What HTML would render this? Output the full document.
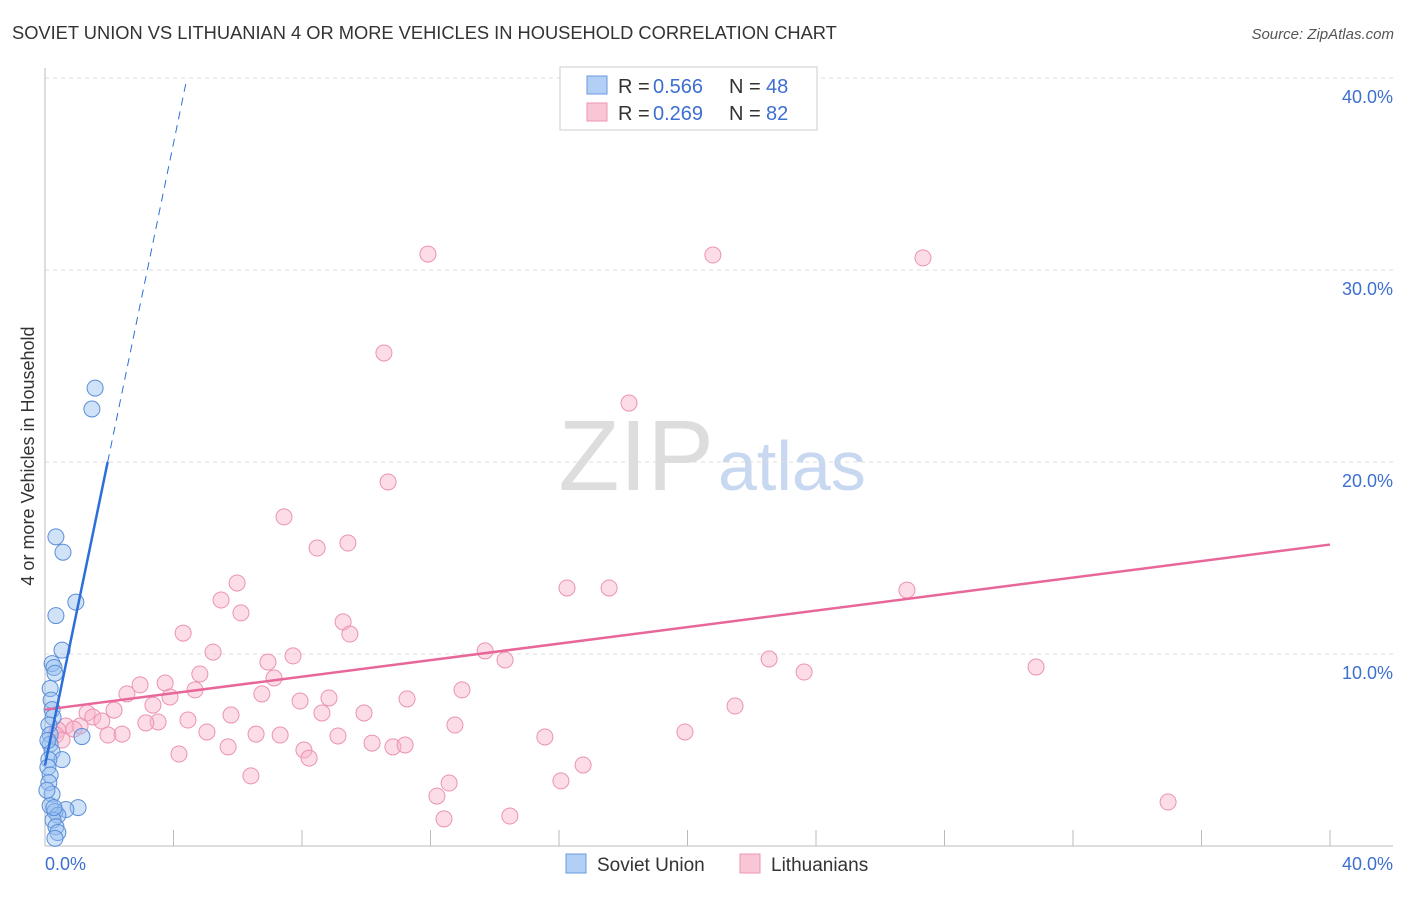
<!DOCTYPE html>
<html><head><meta charset="utf-8"><style>
body{margin:0;background:#fff;font-family:"Liberation Sans",sans-serif}
svg text{font-family:"Liberation Sans",sans-serif}
</style></head><body>
<svg id="c" width="1406" height="892">
<text x="12" y="39" font-size="18.3" fill="#333">SOVIET UNION VS LITHUANIAN 4 OR MORE VEHICLES IN HOUSEHOLD CORRELATION CHART</text>
<text x="1394" y="39" font-size="15" fill="#555" font-style="italic" text-anchor="end">Source: ZipAtlas.com</text>
<text x="714" y="490" font-size="100" fill="#ddd" text-anchor="end" font-family="Liberation Serif">ZIP</text>
<text x="718" y="490" font-size="70" fill="#c8d8f0">atlas</text>
<text transform="translate(34,456) rotate(-90)" font-size="18" fill="#333" text-anchor="middle">4 or more Vehicles in Household</text>
<g id="grid"></g><g id="marks"></g>
<g>
<rect x="560" y="67" width="257" height="63" fill="#fff" stroke="#ccc"/>
<rect x="587" y="76" width="20" height="18" fill="#b3cff5" stroke="#6a9ae0"/>
<rect x="587" y="103" width="20" height="18" fill="#f9c6d6" stroke="#ec95b2"/>
<text x="618" y="93" font-size="20" fill="#333">R =</text><text x="653" y="93" font-size="20" fill="#3d6fd0">0.566</text>
<text x="729" y="93" font-size="20" fill="#333">N =</text><text x="766" y="93" font-size="20" fill="#3d6fd0">48</text>
<text x="618" y="120" font-size="20" fill="#333">R =</text><text x="653" y="120" font-size="20" fill="#3d6fd0">0.269</text>
<text x="729" y="120" font-size="20" fill="#333">N =</text><text x="766" y="120" font-size="20" fill="#3d6fd0">82</text>
</g>
<g>
<rect x="566" y="854" width="20" height="19" fill="#b3cff5" stroke="#6a9ae0"/>
<text x="597" y="871" font-size="19" fill="#333">Soviet Union</text>
<rect x="740" y="854" width="20" height="19" fill="#f9c6d6" stroke="#ec95b2"/>
<text x="771" y="871" font-size="19" fill="#333">Lithuanians</text>
</g>
</svg>
<script>
const yTicks=[10,20,30,40];
const yTickLabels=["10.0%","20.0%","30.0%","40.0%"];
const xTickLabels=["0.0%","40.0%"];
const blueX=[1.56,1.46,0.34,0.56,0.96,0.34,0.53,0.22,0.28,0.31,0.16,0.19,0.22,0.25,0.12,0.16,1.15,0.16,0.22,0.53,0.12,0.09,0.16,0.12,0.22,0.16,1.03,0.65,0.31,0.40,0.25,0.34,0.40,0.31,0.09,0.06,0.28];
const blueY=[23.85,22.76,16.1,15.3,12.7,12.0,10.2,9.5,9.3,9.0,8.2,7.6,7.1,6.7,6.3,5.8,5.7,5.3,4.9,4.5,4.5,4.1,3.7,3.3,2.7,2.1,2.0,1.9,1.8,1.6,1.35,1.0,0.7,0.4,5.5,2.9,2.0];
const pinkX=[11.92,20.79,27.33,10.55,18.18,10.68,7.44,8.47,9.43,5.98,16.25,17.56,26.83,5.48,6.10,9.28,9.49,4.30,13.70,14.32,5.23,6.94,7.72,22.54,23.63,30.85,4.82,7.13,3.74,2.96,12.98,4.67,2.55,3.89,6.75,8.84,11.27,7.94,3.36,21.48,2.15,1.31,9.93,5.79,8.62,1.49,1.77,4.45,3.52,3.14,12.76,0.65,1.09,0.90,0.40,5.04,19.92,1.96,2.40,6.57,7.32,9.12,15.56,10.18,5.70,10.83,11.21,8.06,4.17,8.22,16.75,6.41,12.58,16.06,12.20,34.96,14.47,12.42,0.34,0.53];
const pinkY=[30.83,30.78,30.63,25.68,23.07,18.96,17.14,15.52,15.78,13.70,13.44,13.44,13.33,12.81,12.14,11.67,11.04,11.09,10.16,9.69,10.10,9.58,9.90,9.74,9.06,9.32,8.96,8.75,8.49,8.39,8.13,8.13,7.92,7.76,7.92,7.71,7.66,7.55,7.34,7.29,7.08,6.93,6.93,6.82,6.93,6.72,6.51,6.56,6.46,6.41,6.30,6.25,6.25,6.09,6.04,5.94,5.94,5.78,5.83,5.83,5.78,5.73,5.68,5.36,5.16,5.16,5.26,5.00,4.79,4.58,4.22,3.65,3.28,3.39,2.60,2.29,1.56,1.41,5.78,5.52];
const blueTrend=[4.2,8.1]; // intercept, slope
const pinkTrend=[7.1,0.215];
const NS="http://www.w3.org/2000/svg";
const sx=v=>45+v*32.125, sy=v=>846-v*19.2;
function mk(t,a,p){const e=document.createElementNS(NS,t);for(const k in a)e.setAttribute(k,a[k]);p.appendChild(e);return e;}
const g=document.getElementById('grid'),m=document.getElementById('marks');
yTicks.forEach((t,i)=>{
 const l=mk('line',{x1:45,x2:1393,y1:sy(t),y2:sy(t),stroke:'#ddd','stroke-dasharray':'4,4'},g);
 
 
 const tx=mk('text',{x:1393,y:sy(t)+25,'font-size':18,fill:'#3d6fd0','text-anchor':'end'},g);tx.textContent=yTickLabels[i];
 
 
});
for(let i=0;i<=10;i++){const l=mk('line',{x1:sx(i*4),x2:sx(i*4),y1:830,y2:846,stroke:'#bbb'},g);
 
 }
mk('line',{x1:45,x2:45,y1:68,y2:846,stroke:'#bbb'},g);
mk('line',{x1:45,x2:1393,y1:846,y2:846,stroke:'#bbb'},g);
const x0=mk('text',{x:45,y:870,'font-size':18,fill:'#3d6fd0'},g);x0.textContent=xTickLabels[0];


const x1=mk('text',{x:1393,y:870,'font-size':18,fill:'#3d6fd0','text-anchor':'end'},g);x1.textContent=xTickLabels[1];


pinkX.forEach((x,i)=>{const c=mk('circle',{cx:sx(x),cy:sy(pinkY[i]),r:8,fill:'rgba(248,180,202,0.45)',stroke:'#eb93b1','stroke-width':1},m);
 
 });
blueX.forEach((x,i)=>{const c=mk('circle',{cx:sx(x),cy:sy(blueY[i]),r:8,fill:'rgba(150,190,240,0.45)',stroke:'#5b8fd8','stroke-width':1},m);
 
 });
const pl=mk('line',{x1:sx(0),y1:sy(pinkTrend[0]),x2:sx(40),y2:sy(pinkTrend[0]+40*pinkTrend[1]),stroke:'#e8679a','stroke-width':2.5},m);


const bEnd=(20-blueTrend[0])/blueTrend[1], bTop=(40-blueTrend[0])/blueTrend[1];
const bl=mk('line',{x1:sx(0),y1:sy(blueTrend[0]),x2:sx(bEnd),y2:sy(20),stroke:'#2d6fd8','stroke-width':2.5},m);


const bd=mk('line',{x1:sx(bEnd),y1:sy(20),x2:sx(bTop),y2:sy(40),stroke:'#2d6fd8','stroke-width':1,'stroke-dasharray':'8,6'},m);


</script>
</body></html>
